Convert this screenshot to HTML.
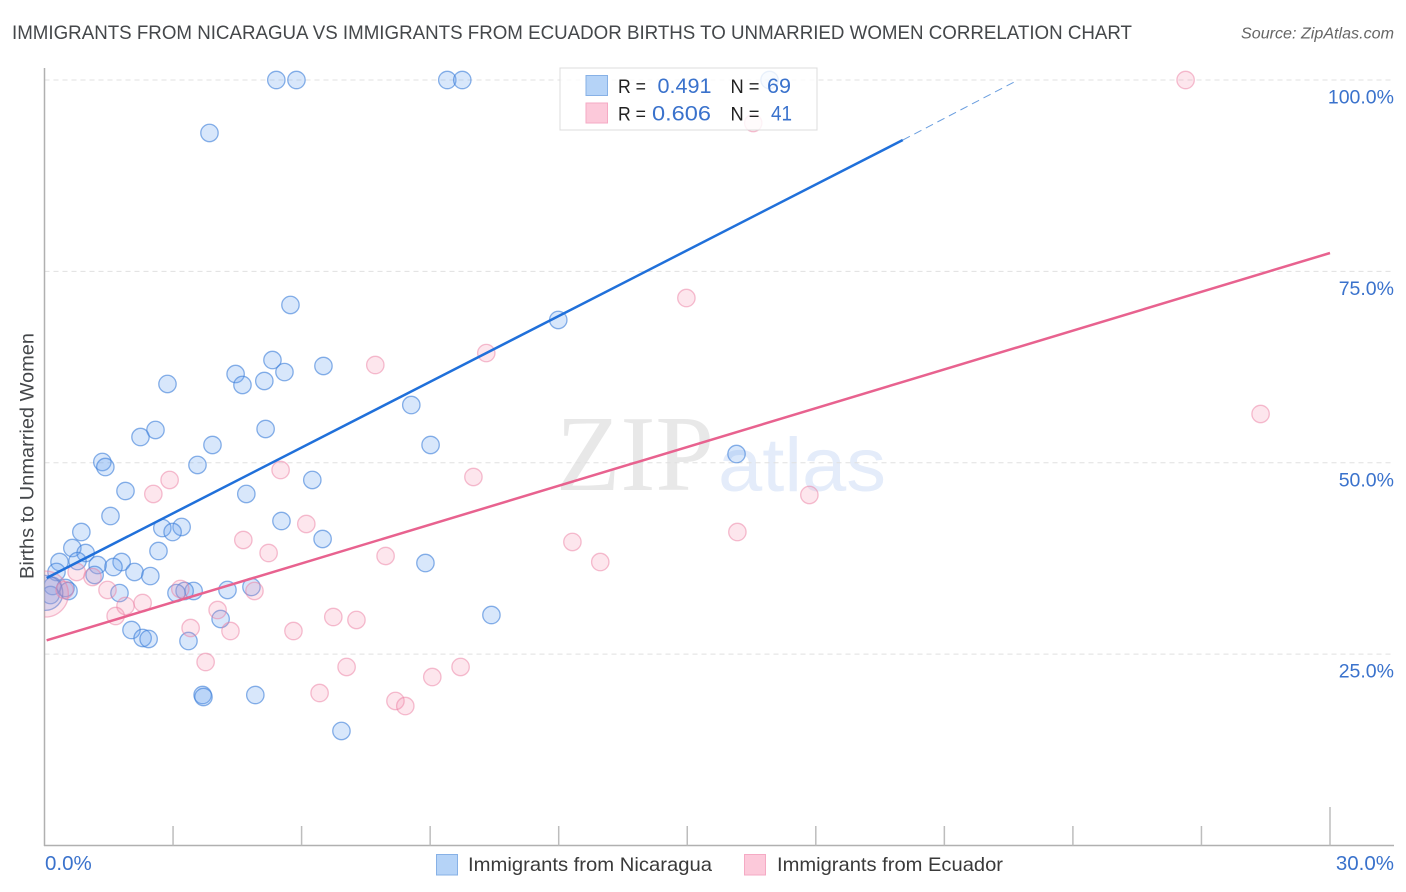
<!DOCTYPE html>
<html lang="en">
<head>
<meta charset="utf-8">
<title>Immigrants from Nicaragua vs Immigrants from Ecuador Births to Unmarried Women Correlation Chart</title>
<style>
html,body{margin:0;padding:0;background:#fff;width:1406px;height:892px;overflow:hidden}
svg{display:block}
text{font-family:"Liberation Sans",sans-serif}
</style>
</head>
<body>
<svg id="chart" xmlns="http://www.w3.org/2000/svg" width="1406" height="892" viewBox="0 0 1406 892">
  <defs>
    <clipPath id="plot-clip"><rect x="44.5" y="60" width="1350" height="785"/></clipPath>
  </defs>
  <rect width="1406" height="892" fill="#fff"/>
  <text x="12" y="39" font-size="19.5" fill="#44474a" textLength="1120" lengthAdjust="spacingAndGlyphs">IMMIGRANTS FROM NICARAGUA VS IMMIGRANTS FROM ECUADOR BIRTHS TO UNMARRIED WOMEN CORRELATION CHART</text>
  <text x="1241" y="38.5" font-size="15.5" font-style="italic" fill="#666" textLength="153" lengthAdjust="spacingAndGlyphs">Source: ZipAtlas.com</text>
  <g>
    <text x="556" y="490" font-size="108" fill="#e8e8e8" style="font-family:'Liberation Serif',serif" textLength="158" lengthAdjust="spacingAndGlyphs">ZIP</text>
    <text x="718" y="491" font-size="76" fill="#e4ecfa" textLength="168" lengthAdjust="spacingAndGlyphs">atlas</text>
  </g>
  <g id="grid"></g>
  <g id="axes"></g>
  <g id="points" clip-path="url(#plot-clip)"></g>
  <g id="trends"></g>
  <g id="ylabels"></g>
  <g id="xlabels"></g>
  <text transform="translate(33.5,456) rotate(-90)" text-anchor="middle" font-size="19.5" fill="#44474a" textLength="246" lengthAdjust="spacingAndGlyphs">Births to Unmarried Women</text>
  <g>
    <rect x="560" y="68" width="257" height="62" fill="#fff" fill-opacity="0.82" stroke="#dcdcdc" stroke-width="1"/>
    <rect x="586" y="75.5" width="21.5" height="20" fill="#b5d3f7" stroke="#87b1e6"/>
    <rect x="586" y="103" width="21.5" height="20" fill="#fcc9da" stroke="#f5aac4"/>
    <text x="618" y="93" font-size="19" fill="#222" textLength="28" lengthAdjust="spacingAndGlyphs">R =</text>
    <text x="657.5" y="93" font-size="21" fill="#3a72cc" textLength="54" lengthAdjust="spacingAndGlyphs">0.491</text>
    <text x="730.5" y="93" font-size="19" fill="#222" textLength="29" lengthAdjust="spacingAndGlyphs">N =</text>
    <text x="767" y="93" font-size="21" fill="#3a72cc" textLength="24" lengthAdjust="spacingAndGlyphs">69</text>
    <text x="618" y="120.5" font-size="19" fill="#222" textLength="28" lengthAdjust="spacingAndGlyphs">R =</text>
    <text x="652" y="120.5" font-size="21" fill="#3a72cc" textLength="59" lengthAdjust="spacingAndGlyphs">0.606</text>
    <text x="730.5" y="120.5" font-size="19" fill="#222" textLength="29" lengthAdjust="spacingAndGlyphs">N =</text>
    <text x="771" y="120.5" font-size="21" fill="#3a72cc" textLength="21" lengthAdjust="spacingAndGlyphs">41</text>
  </g>
  <g>
    <rect x="436.5" y="854.5" width="21" height="20.5" fill="#b5d3f7" stroke="#87b1e6"/>
    <text x="468" y="871" font-size="19.5" fill="#3a3a3a" textLength="244" lengthAdjust="spacingAndGlyphs">Immigrants from Nicaragua</text>
    <rect x="744.5" y="854.5" width="21" height="20.5" fill="#fcc9da" stroke="#f5aac4"/>
    <text x="777" y="871" font-size="19.5" fill="#3a3a3a" textLength="226" lengthAdjust="spacingAndGlyphs">Immigrants from Ecuador</text>
  </g>
</svg>
<script>
const yGridValues = [100, 75, 50, 25];
const yTickLabels = ["100.0%", "75.0%", "50.0%", "25.0%"];
const xTickValues = [0, 3, 6, 9, 12, 15, 18, 21, 24, 27, 30];
const xEndLabels = ["0.0%", "30.0%"];

const nicaraguaX = [5.41,5.88,9.40,9.75,16.92,3.85,5.74,11.99,5.32,6.51,4.46,5.60,5.13,4.62,2.87,8.56,5.16,2.59,2.24,3.92,9.01,16.15,1.35,1.42,3.57,6.25,1.89,4.71,1.54,5.53,3.20,2.75,2.99,6.49,0.86,2.66,0.65,0.96,0.77,1.80,8.89,0.35,1.24,1.61,2.10,0.28,2.47,1.17,0.19,0.49,0.56,4.27,3.48,3.27,3.08,1.75,4.83,4.11,10.43,2.03,2.29,2.43,3.36,3.69,3.71,4.92,6.93,0.14];
const nicaraguaY = [100,100,100,100,100,93.08,70.61,68.65,63.42,62.64,61.59,61.85,60.68,60.16,60.29,57.54,54.41,54.28,53.36,52.32,52.32,51.14,50.10,49.44,49.71,47.75,46.31,45.92,43.04,42.39,41.61,41.47,40.95,40.04,40.95,38.47,38.86,38.21,37.16,37.03,36.90,37.03,36.64,36.38,35.73,35.73,35.20,35.34,33.90,33.64,33.25,33.38,33.25,33.25,32.98,32.98,33.77,29.59,30.11,28.15,27.11,26.98,26.71,19.66,19.40,19.66,14.96,32.72];
const nicaraguaClusterX = [0.02];
const nicaraguaClusterY = [33.0];

const ecuadorX = [26.63,16.54,14.98,10.31,7.72,28.38,5.51,2.92,10.01,2.54,17.85,6.11,16.17,4.64,12.32,5.23,7.96,12.97,0.75,1.12,3.17,4.90,1.47,0.47,2.29,1.89,4.04,1.66,6.74,7.28,3.41,4.34,5.81,3.76,7.05,9.71,6.42,9.05,8.19,8.42];
const ecuadorY = [100,94.38,71.52,64.33,62.77,56.37,49.05,47.75,48.14,45.92,45.79,42.00,40.95,39.91,39.65,38.21,37.82,37.03,35.73,35.07,33.51,33.25,33.38,33.38,31.68,31.29,30.76,29.98,29.85,29.46,28.41,28.02,28.02,23.97,23.32,23.32,19.92,22.01,18.88,18.22];
const ecuadorClusterX = [0.02];
const ecuadorClusterY = [32.85];

const nicaraguaTrendX = [0.05, 20.03];
const nicaraguaTrendY = [34.95, 92.16];
const nicaraguaProjectionX = [20.03, 22.72];
const nicaraguaProjectionY = [92.16, 100];
const ecuadorTrendX = [0.05, 30];
const ecuadorTrendY = [26.8, 77.4];

const NS = 'http://www.w3.org/2000/svg';
function xScale(v) { return 44.5 + v * 42.85; }
function yScale(v) { return 845.5 - v * 7.655; }
function make(tag, attrs, parent) {
  const el = document.createElementNS(NS, tag);
  for (const k in attrs) el.setAttribute(k, attrs[k]);
  parent.appendChild(el);
  return el;
}

const grid = document.getElementById('grid');
const axes = document.getElementById('axes');
const pointsG = document.getElementById('points');
const trends = document.getElementById('trends');
const ylabels = document.getElementById('ylabels');
const xlabels = document.getElementById('xlabels');

yGridValues.forEach(function (v) {
  const line = make('line', {x1: 44.5, x2: 1394, y1: yScale(v), y2: yScale(v), stroke: '#e0e0e0', 'stroke-width': 1, 'stroke-dasharray': '5 4'}, grid);
  
  
});

const yAxis = make('line', {x1: 44.5, x2: 44.5, y1: 68, y2: 846, stroke: '#b0b0b0', 'stroke-width': 1.5}, axes);


const xAxis = make('line', {x1: 44, x2: 1394, y1: 845.5, y2: 845.5, stroke: '#b0b0b0', 'stroke-width': 1.5}, axes);



xTickValues.slice(1).forEach(function (v, i, arr) {
  const top = i === arr.length - 1 ? 807 : 826;
  const tick = make('line', {x1: xScale(v), x2: xScale(v), y1: top, y2: 845.5, stroke: '#bdbdbd', 'stroke-width': 1.5}, axes);
  
  
});

function drawPoint(x, y, r, color) {
  const c = make('circle', {cx: xScale(x), cy: yScale(y), r: r, fill: color.fill, 'fill-opacity': color.fo, stroke: color.stroke, 'stroke-opacity': color.so, 'stroke-width': 1.3}, pointsG);
  return c;
}
const blueStyle = {fill: '#6aa4ee', fo: 0.26, stroke: '#3a7dd9', so: 0.6};
const pinkStyle = {fill: '#f78fab', fo: 0.22, stroke: '#ec7ea2', so: 0.5};

nicaraguaX.forEach(function (x, i) {
  const c = drawPoint(x, nicaraguaY[i], 8.7, blueStyle);
  
  
});
nicaraguaClusterX.forEach(function (x, i) {
  const c = drawPoint(x, nicaraguaClusterY[i], 17.5, blueStyle);
  
  
});
ecuadorX.forEach(function (x, i) {
  const c = drawPoint(x, ecuadorY[i], 8.7, pinkStyle);
  
  
});
ecuadorClusterX.forEach(function (x, i) {
  const c = drawPoint(x, ecuadorClusterY[i], 23, pinkStyle);
  
  
});

const blueTrend = make('line', {x1: xScale(nicaraguaTrendX[0]), y1: yScale(nicaraguaTrendY[0]), x2: xScale(nicaraguaTrendX[1]), y2: yScale(nicaraguaTrendY[1]), stroke: '#2070da', 'stroke-width': 2.5}, trends);


const blueProj = make('line', {x1: xScale(nicaraguaProjectionX[0]), y1: yScale(nicaraguaProjectionY[0]), x2: xScale(nicaraguaProjectionX[1]), y2: yScale(nicaraguaProjectionY[1]), stroke: '#6a9edf', 'stroke-width': 1, 'stroke-dasharray': '8 5'}, trends);


const pinkTrend = make('line', {x1: xScale(ecuadorTrendX[0]), y1: yScale(ecuadorTrendY[0]), x2: xScale(ecuadorTrendX[1]), y2: yScale(ecuadorTrendY[1]), stroke: '#e8628f', 'stroke-width': 2.5}, trends);



yTickLabels.forEach(function (label, i) {
  const t = make('text', {x: 1394, y: yScale(yGridValues[i]) + 23.5, 'text-anchor': 'end', 'font-size': 19.5, fill: '#3a72cc'}, ylabels);
  t.textContent = label;
  
  
});
xEndLabels.forEach(function (label, i) {
  const anchorEnd = i === 1;
  const t = make('text', {x: anchorEnd ? 1394 : 45, y: 870, 'text-anchor': anchorEnd ? 'end' : 'start', 'font-size': 20.5, fill: '#3a72cc'}, xlabels);
  t.textContent = label;
  
  
});
</script>
</body>
</html>
